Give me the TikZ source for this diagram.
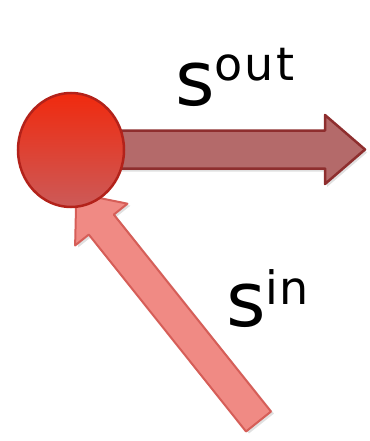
\documentclass[tikz,border=0pt]{standalone}
\usepackage{fontspec}
\setmainfont{DejaVu Sans}
\usepackage{tikz}
\usetikzlibrary{calc,shapes.geometric}
\definecolor{cdot}{HTML}{F02A0E}
\definecolor{cdotlow}{HTML}{CC5A58}
\definecolor{cdotrim}{HTML}{B3221A}
\definecolor{cout}{HTML}{B46A6A}
\definecolor{coutrim}{HTML}{8E2E2E}
\definecolor{cin}{HTML}{F08A84}
\definecolor{cinrim}{HTML}{D65E58}
\tikzset{
  dot/.style={ellipse, minimum width=106pt, minimum height=114pt, inner sep=0pt,
    draw=cdotrim, line width=2.5pt, top color=cdot, bottom color=cdotlow},
  outarr/.style={fill=cout, draw=coutrim, line width=2.5pt, line join=round},
  inarr/.style={fill=cin, draw=cinrim, line width=2pt, line join=round},
  shade/.style={fill=black, opacity=0.12, draw=none},
  lbl/.style={inner sep=0pt, anchor=base west, font=\fontsize{76}{76}\selectfont},
}
\newcommand{\fatarrow}[5]{% style, shaft length, shaft half, head length, head half
  \path[#1] (0,-#3) -- (#2,-#3) -- (#2,-#5) -- (#2+#4,0) -- (#2,#5) -- (#2,#3) -- (0,#3) -- cycle;}

\begin{document}
\begin{tikzpicture}[x=1pt,y=-1pt]
\useasboundingbox (0,0) rectangle (369,441);
% anchor points of the node and the arrows
\coordinate (outtail) at (95,149.5);
\coordinate (intail) at (258.5,421.5);
% outgoing arrow
\begin{scope}[shift={($(outtail)+(2,3)$)}]\fatarrow{shade}{230}{19}{40}{34.5}\end{scope}
\begin{scope}[shift={(outtail)}]\fatarrow{outarr}{230}{19}{40}{34.5}\end{scope}
% incoming arrow
\begin{scope}[shift={($(intail)+(3,2)$)}, rotate=128.6]\fatarrow{shade}{252}{16}{40}{33.5}\end{scope}
\begin{scope}[shift={(intail)}, rotate=128.6]\fatarrow{inarr}{252}{16}{40}{33.5}\end{scope}
\node[dot] (v) at (71,150) {};
% labels
\node[lbl] (sout) at (175,106) {s\raisebox{25pt}{\fontsize{46}{46}\selectfont o\kern2pt u\kern2pt t}};
\node[lbl] (sin) at (226,326) {s\raisebox{22pt}{\fontsize{46}{46}\selectfont i\kern1pt n}};
\end{tikzpicture}
\end{document}
